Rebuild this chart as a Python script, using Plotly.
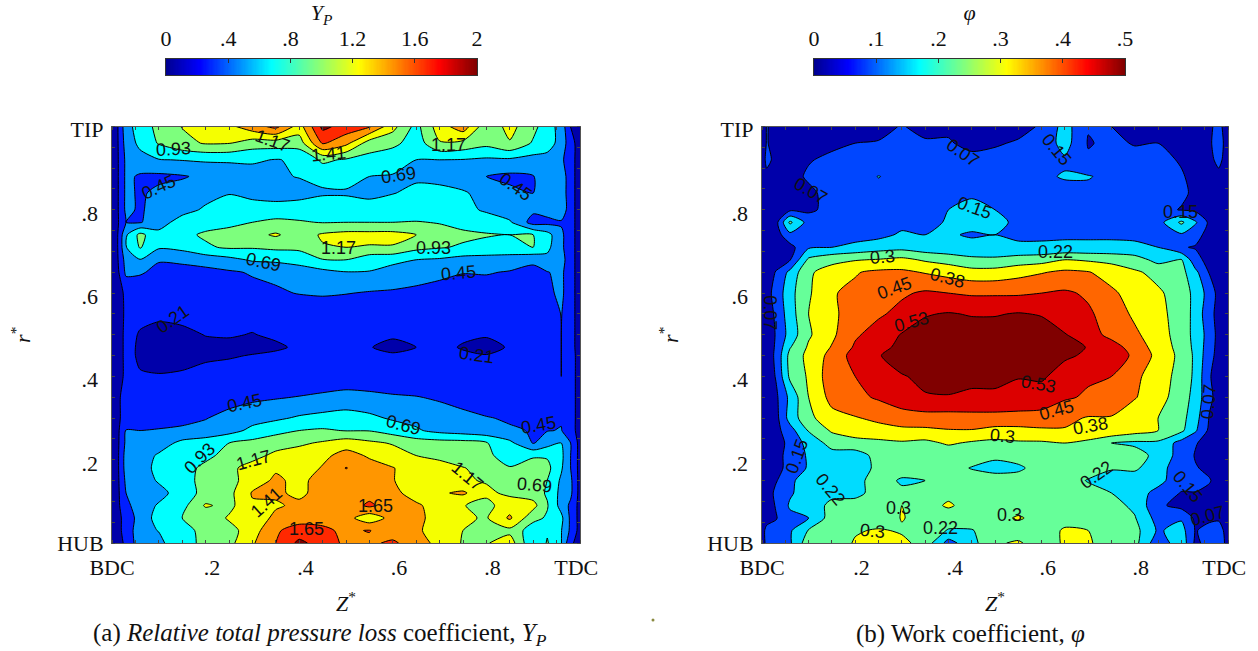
import plotly.graph_objects as go

W, H = 1258, 651

Z_NODES = [0, .01, .03, .06, .1, .15, .2, .25, .3, .35, .4, .45, .5, .55, .6, .65, .7, .75, .8, .85, .9, .93, .96, .98, 1]
R_NODES = [1, .96, .92, .88, .84, .80, .77, .74, .71, .68, .65, .60, .55, .50, .47, .45, .40, .35, .30, .27, .24, .21, .18, .15, .12, .09, .06, .03, 0]

YP = [
 [.10,.15,.60,.80,1.0,1.18,1.30,1.35,1.55,1.72,1.30,1.95,1.80,1.68,1.25,.85,1.30,1.55,1.0,1.25,1.0,.80,.60,.20,.10],
 [.10,.15,.55,.75,.95,1.10,1.19,1.18,1.05,1.05,1.05,1.68,1.48,1.05,1.00,.80,1.15,1.10,1.0,1.15,.90,.80,.60,.30,.10],
 [.10,.15,.50,.60,.68,.70,.72,.72,.72,.68,.72,.98,.90,.85,.75,.69,.69,.68,.65,.65,.60,.60,.50,.30,.10],
 [.10,.15,.50,.42,.40,.43,.50,.55,.60,.66,.70,.75,.78,.69,.68,.65,.60,.55,.45,.40,.44,.55,.60,.30,.10],
 [.10,.15,.50,.42,.50,.55,.62,.68,.62,.58,.60,.66,.66,.60,.68,.75,.78,.72,.60,.50,.45,.55,.60,.30,.10],
 [.10,.15,.50,.42,.55,.62,.72,.80,.80,.80,.82,.85,.85,.85,.85,.82,.80,.75,.66,.55,.50,.55,.62,.30,.10],
 [.10,.15,.45,.43,.60,.78,.85,.88,.93,.98,.95,.92,.93,.93,.93,.94,.92,.85,.80,.72,.35,.38,.42,.30,.10],
 [.10,.15,.66,1.0,.75,.88,.96,1.0,1.1,1.2,1.05,1.2,1.25,1.25,1.25,1.17,1.0,.98,.95,.93,.93,.78,.50,.30,.10],
 [.10,.15,.68,.95,.72,.76,.90,.96,.95,.98,.98,1.15,1.17,1.15,1.15,1.0,.95,.90,.85,.82,.93,.75,.50,.30,.10],
 [.10,.15,.55,.68,.47,.50,.55,.62,.72,.74,.80,.92,.93,.78,.75,.69,.66,.60,.60,.60,.50,.62,.55,.30,.10],
 [.10,.12,.50,.48,.38,.36,.38,.42,.47,.50,.55,.62,.68,.68,.60,.58,.52,.46,.47,.43,.38,.44,.50,.30,.10],
 [.10,.12,.25,.26,.27,.28,.29,.30,.38,.42,.46,.48,.46,.43,.42,.38,.34,.32,.31,.30,.28,.40,.50,.30,.10],
 [.10,.12,.24,.24,.24,.26,.25,.25,.25,.27,.28,.28,.27,.26,.26,.25,.24,.24,.24,.24,.24,.26,.46,.30,.10],
 [.10,.12,.25,.20,.16,.17,.215,.22,.205,.23,.25,.25,.25,.24,.24,.24,.24,.23,.23,.24,.24,.26,.45,.30,.10],
 [.10,.12,.25,.19,.15,.16,.17,.18,.18,.19,.23,.24,.23,.22,.15,.21,.24,.20,.14,.23,.24,.26,.45,.30,.10],
 [.10,.12,.25,.19,.15,.16,.19,.20,.215,.235,.25,.25,.24,.25,.24,.24,.25,.23,.22,.24,.25,.26,.45,.30,.12],
 [.10,.12,.25,.22,.22,.23,.25,.26,.27,.27,.27,.27,.27,.27,.27,.27,.27,.27,.27,.27,.27,.28,.45,.30,.12],
 [.10,.12,.35,.30,.30,.32,.33,.36,.40,.43,.46,.50,.55,.52,.48,.46,.42,.38,.34,.32,.34,.37,.42,.30,.12],
 [.10,.12,.35,.33,.33,.37,.44,.52,.60,.65,.72,.76,.78,.74,.66,.62,.56,.50,.46,.43,.42,.42,.43,.30,.12],
 [.10,.12,.46,.45,.47,.50,.52,.60,.75,.85,.93,.96,.92,.92,.82,.72,.62,.57,.52,.47,.44,.44,.46,.30,.12],
 [.10,.12,.50,.55,.58,.75,.82,.93,1.0,1.08,1.13,1.20,1.30,1.22,1.15,1.05,1.03,1.02,.95,.75,.43,.60,.69,.45,.12],
 [.10,.12,.55,.58,.72,.80,.88,1.0,1.1,1.22,1.28,1.35,1.5,1.38,1.28,1.17,1.12,1.05,1.0,.78,.90,.90,.75,.45,.12],
 [.10,.12,.55,.60,.75,.85,.98,1.12,1.25,1.38,1.27,1.43,1.66,1.5,1.42,1.3,1.25,1.18,1.1,.95,1.05,1.0,.72,.45,.12],
 [.10,.12,.50,.55,.72,.85,1.0,1.08,1.3,1.45,1.35,1.5,1.52,1.5,1.42,1.3,1.3,1.2,1.15,.95,1.0,.93,.65,.50,.12],
 [.10,.12,.45,.60,.60,.82,1.0,1.1,1.43,1.45,1.36,1.5,1.52,1.55,1.48,1.3,1.38,1.45,1.22,1.12,1.05,.90,.62,.50,.12],
 [.10,.12,.40,.55,.72,.85,1.2,1.1,1.38,1.38,1.46,1.5,1.5,1.7,1.5,1.45,1.3,1.18,1.1,1.3,1.25,.95,.60,.40,.12],
 [.10,.12,.30,.55,.78,.93,1.0,1.2,1.25,1.47,1.55,1.6,1.5,1.25,1.5,1.48,1.3,1.2,1.15,1.45,1.0,.90,.75,.40,.12],
 [.10,.12,.30,.60,.70,.85,1.0,1.08,1.3,1.62,1.75,1.68,1.62,1.66,1.5,1.45,1.3,1.17,1.0,1.1,.80,.90,.70,.40,.12],
 [.10,.12,.25,.60,.62,.90,.95,1.1,1.38,1.65,1.95,1.78,1.6,1.6,1.7,1.5,1.35,1.15,1.15,1.3,.70,.95,.70,.25,.12],
]

PHI = [
 [.02,.08,.05,.05,.05,.05,.05,.05,.08,.05,.065,.05,.05,.06,.08,.18,.08,.075,.065,.05,.05,.05,.06,.10,.03],
 [.02,.08,.05,.05,.05,.06,.075,.08,.09,.085,.08,.06,.07,.08,.10,.18,.07,.09,.07,.075,.05,.05,.06,.12,.03],
 [.02,.10,.05,.05,.07,.09,.10,.10,.10,.10,.10,.09,.09,.09,.10,.14,.085,.10,.10,.09,.07,.05,.05,.10,.03],
 [.02,.05,.06,.05,.085,.10,.12,.152,.13,.13,.12,.12,.12,.13,.14,.155,.155,.13,.12,.11,.08,.06,.05,.05,.03],
 [.02,.05,.05,.05,.06,.10,.12,.13,.13,.13,.13,.14,.14,.14,.14,.13,.13,.12,.12,.11,.09,.06,.05,.05,.03],
 [.02,.04,.06,.06,.06,.10,.12,.12,.13,.13,.15,.17,.15,.12,.12,.12,.12,.12,.11,.10,.07,.06,.06,.06,.03],
 [.02,.04,.05,.24,.12,.11,.12,.12,.13,.12,.16,.18,.19,.12,.12,.12,.12,.12,.12,.12,.24,.16,.06,.05,.03],
 [.02,.03,.04,.13,.09,.12,.12,.13,.16,.15,.16,.14,.15,.14,.14,.14,.14,.14,.14,.13,.14,.10,.05,.05,.03],
 [.02,.03,.04,.05,.14,.15,.17,.19,.20,.18,.17,.18,.17,.16,.16,.165,.165,.165,.16,.15,.08,.07,.05,.05,.03],
 [.02,.03,.04,.07,.24,.28,.295,.305,.32,.29,.27,.24,.24,.26,.27,.30,.29,.28,.26,.20,.23,.10,.05,.05,.03],
 [.02,.03,.08,.17,.29,.33,.37,.39,.39,.37,.35,.33,.33,.35,.37,.39,.38,.34,.31,.28,.25,.17,.07,.05,.03],
 [.02,.05,.10,.20,.29,.37,.39,.43,.44,.46,.45,.44,.44,.44,.45,.46,.44,.39,.34,.31,.27,.20,.12,.05,.03],
 [.02,.03,.09,.19,.30,.36,.41,.44,.47,.52,.53,.52,.52,.53,.52,.47,.46,.42,.36,.32,.27,.20,.10,.05,.03],
 [.02,.03,.08,.18,.29,.36,.44,.48,.53,.55,.56,.56,.56,.56,.56,.53,.48,.43,.39,.33,.27,.20,.12,.05,.03],
 [.02,.03,.085,.22,.31,.38,.46,.50,.545,.57,.57,.57,.57,.57,.57,.56,.52,.48,.42,.34,.275,.205,.11,.05,.03],
 [.02,.03,.09,.25,.32,.40,.48,.52,.56,.58,.58,.58,.58,.58,.58,.54,.51,.48,.44,.35,.28,.21,.10,.05,.03],
 [.02,.03,.08,.24,.31,.42,.45,.47,.52,.54,.56,.56,.56,.53,.54,.48,.46,.45,.39,.34,.27,.21,.08,.05,.03],
 [.02,.03,.06,.17,.30,.40,.43,.46,.50,.52,.52,.50,.50,.49,.48,.46,.44,.42,.38,.33,.26,.20,.09,.05,.03],
 [.02,.03,.05,.18,.28,.35,.37,.39,.41,.42,.42,.43,.43,.43,.43,.39,.37,.37,.33,.30,.25,.18,.07,.05,.03],
 [.02,.03,.05,.12,.23,.31,.34,.35,.36,.36,.37,.37,.35,.35,.36,.37,.36,.36,.33,.30,.24,.16,.06,.05,.03],
 [.02,.03,.05,.09,.18,.25,.27,.28,.29,.28,.31,.29,.28,.29,.29,.30,.28,.225,.21,.21,.12,.08,.05,.05,.03],
 [.02,.03,.05,.10,.16,.20,.19,.25,.26,.26,.25,.27,.24,.26,.27,.27,.26,.27,.26,.20,.12,.07,.05,.05,.03],
 [.02,.03,.06,.09,.16,.19,.17,.25,.26,.26,.26,.22,.20,.21,.26,.27,.26,.23,.24,.17,.12,.08,.06,.05,.03],
 [.02,.04,.07,.12,.225,.20,.20,.26,.215,.225,.26,.27,.26,.26,.26,.26,.22,.20,.18,.17,.11,.12,.08,.05,.03],
 [.02,.04,.09,.14,.19,.20,.20,.26,.24,.27,.28,.27,.26,.24,.25,.27,.25,.225,.18,.13,.07,.07,.06,.05,.03],
 [.02,.04,.08,.16,.17,.25,.26,.28,.30,.27,.31,.27,.27,.26,.26,.26,.26,.25,.21,.09,.05,.06,.06,.05,.03],
 [.02,.04,.07,.13,.15,.26,.26,.24,.305,.27,.26,.27,.27,.31,.27,.27,.26,.25,.23,.12,.14,.06,.06,.06,.03],
 [.04,.10,.10,.14,.23,.26,.29,.31,.29,.27,.22,.22,.27,.26,.26,.31,.30,.26,.25,.14,.18,.07,.10,.12,.03],
 [.03,.10,.08,.14,.27,.24,.31,.33,.32,.27,.12,.20,.29,.31,.26,.31,.31,.26,.25,.10,.20,.06,.10,.15,.03],
]
for row in YP + PHI:
    assert len(row) == len(Z_NODES)
assert len(YP) == len(R_NODES) and len(PHI) == len(R_NODES)

YP_CB_TICKS = [0, .4, .8, 1.2, 1.6, 2]
YP_CB_TEXT = ["0", ".4", ".8", "1.2", "1.6", "2"]
PHI_CB_TICKS = [0, .1, .2, .3, .4, .5]
PHI_CB_TEXT = ["0", ".1", ".2", ".3", ".4", ".5"]

X_LABELS = ["BDC", ".2", ".4", ".6", ".8", "TDC"]
Y_LABELS = ["TIP", ".8\u00a0", ".6\u00a0", ".4\u00a0", ".2\u00a0", "HUB"]

# contour label texts: text, Z*, r*, angle
YP_LABELS = [
 ("0.93",.132,.947,-3),("1.17",.344,.966,20),("1.41",.462,.935,-5),("1.17",.718,.956,0),
 ("0.45",.100,.855,-25),("0.69",.613,.883,-8),("0.45",.863,.855,35),("1.17",.483,.708,0),
 ("0.93",.688,.708,0),("0.69",.323,.675,12),("0.45",.741,.648,-5),("0.21",.130,.538,-35),
 ("0.21",.778,.451,8),("0.45",.284,.336,-12),("0.69",.622,.284,15),("0.45",.912,.283,-10),
 ("0.93",.188,.204,-45),("1.17",.303,.199,-15),("1.41",.331,.098,-42),("1.17",.759,.161,40),
 ("0.69",.902,.139,5),("1.65",.415,.034,0),("1.65",.564,.089,0),
]
PHI_LABELS = [
 ("0.07",.017,.552,90),("0.07",.105,.845,30),("0.07",.431,.936,35),("0.15",.457,.804,20),
 ("0.3",.258,.687,-5),("0.38",.399,.636,15),("0.45",.285,.612,-20),("0.53",.320,.531,-15),
 ("0.15",.633,.944,50),("0.15",.899,.795,0),("0.22",.630,.699,0),("0.53",.593,.382,10),
 ("0.45",.633,.319,-15),("0.38",.704,.281,-10),("0.3",.517,.257,5),("0.07",.958,.339,-85),
 ("0.22",.717,.163,-35),("0.15",.914,.135,50),("0.07",.955,.065,-15),("0.3",.532,.067,0),
 ("0.15",.075,.209,-70),("0.22",.146,.130,50),("0.3",.294,.084,0),("0.3",.238,.029,5),("0.22",.384,.036,0),
]

YP_START, YP_SIZE, YP_END = .21, .24, 1.89
PHI_START, PHI_SIZE, PHI_END = .075, .075, .525
YP_FILLS = ["#0000aa","#001eff","#0096ff","#00ffff","#7dff7d","#f5ff00","#ff9600","#ff2800","#800000"]
PHI_FILLS = ["#0000aa","#0046ff","#00dcff","#66ff99","#ffff00","#ff6600","#dc0000","#800000"]
JET = [[0,"rgb(0,0,143)"],[.11,"rgb(0,0,255)"],[.34,"rgb(0,255,255)"],[.62,"rgb(255,255,0)"],[.88,"rgb(255,0,0)"],[1,"rgb(128,0,0)"]]
RAMP_STEPS = 256

SERIF = "Liberation Serif"
TXT = dict(family=SERIF, size=22, color="#111")
PLOTS = [
 dict(l=112,r=580,z=YP,start=YP_START,size=YP_SIZE,end=YP_END,fills=YP_FILLS,labels=YP_LABELS,ystand=20,
      cbl=166,cbr=477,cbt=YP_CB_TICKS,cbx=YP_CB_TEXT,cbtitle="<i>Y</i><sub><i>P</i></sub>",cmax=2,
      cap="(a) <i>Relative total pressure loss</i> coefficient, <i>Y</i><sub><i>P</i></sub>",capx=320),
 dict(l=762,r=1228,z=PHI,start=PHI_START,size=PHI_SIZE,end=PHI_END,fills=PHI_FILLS,labels=PHI_LABELS,ystand=22,
      cbl=814,cbr=1125,cbt=PHI_CB_TICKS,cbx=PHI_CB_TEXT,cbtitle="<i>φ</i>",cmax=.5,
      cap="(b) Work coefficient, <i>φ</i>",capx=970),
]
TOP, BOT = 126.5, 543.0
CB_TOP, CB_BOT = 59.0, 75.0

# where the labels sit relative to the axes (they are set off the ticks in the reference)
X_LABEL_POS = [0, .2137, .4135, .613, .813, .992]
Y_LABEL_POS = [.994, .792, .592, .392, .192, 0]

fig = go.Figure()
layout = dict(width=W, height=H, margin=dict(l=0,r=0,t=0,b=0,autoexpand=False), paper_bgcolor="white", plot_bgcolor="white",
              showlegend=False, font=TXT)
annotations = []
for i, p in enumerate(PLOTS):
    suf = "" if i == 0 else "2"
    cx, cy = f"x{i+3}", f"y{i+3}"
    n = len(p["fills"])
    zmin = p["start"] - p["size"]/2
    zmax = zmin + p["size"]*(n-1)
    scale = [[k/(n-1), c] for k, c in enumerate(p["fills"])]
    fig.add_trace(go.Contour(x=Z_NODES, y=R_NODES[::-1], z=p["z"][::-1], xaxis="x"+suf, yaxis="y"+suf,
        autocontour=False, contours=dict(start=p["start"],end=p["end"],size=p["size"],coloring="fill",showlabels=False),
        colorscale=scale, zmin=zmin, zmax=zmax, showscale=False, line=dict(color="black",width=1,smoothing=.7),
        hoverinfo="skip"))
    ramp = [p["cmax"]*k/(RAMP_STEPS-1) for k in range(RAMP_STEPS)]
    fig.add_trace(go.Heatmap(x=ramp, y=[0], z=[ramp], xaxis=cx, yaxis=cy, colorscale=JET, zmin=0, zmax=p["cmax"],
                             showscale=False, hoverinfo="skip"))
    layout[f"xaxis{i+3}"] = dict(domain=[p["cbl"]/W, p["cbr"]/W], range=[0,p["cmax"]], anchor=cy, side="top", tickmode="array",
        tickvals=p["cbt"], ticktext=p["cbx"], ticks="inside", ticklen=4, tickcolor="#333", showgrid=False, zeroline=False,
        showline=True, linecolor="#333", linewidth=1, mirror=True, tickfont=TXT, ticklabelstandoff=3, automargin=False,
        title=dict(text=p["cbtitle"], standoff=1, font=TXT))
    layout[f"yaxis{i+3}"] = dict(domain=[1-CB_BOT/H, 1-CB_TOP/H], range=[-.5,.5], anchor=cx, showticklabels=False, ticks="",
        showgrid=False, zeroline=False, showline=True, linecolor="#333", linewidth=1, mirror=True, automargin=False)
    layout["xaxis"+suf] = dict(domain=[p["l"]/W, p["r"]/W], range=[0,1], anchor="y"+suf, tickmode="array",
        tickvals=X_LABEL_POS, ticktext=X_LABELS, ticks="", showgrid=False, zeroline=False, showline=True, linecolor="#555",
        linewidth=1, mirror="allticks", tickfont=TXT, automargin=False, ticklabelstandoff=5,
        minor=dict(ticks="inside", ticklen=3, tickmode="linear", tick0=0, dtick=.05, tickcolor="#444", showgrid=False),
        title=dict(text="<i>Z</i><sup>*</sup>", standoff=16, font=TXT))
    layout["yaxis"+suf] = dict(domain=[1-BOT/H, 1-TOP/H], range=[0,1], anchor="x"+suf, tickmode="array",
        tickvals=Y_LABEL_POS, ticktext=Y_LABELS, ticks="", showgrid=False, zeroline=False, showline=True, linecolor="#555",
        linewidth=1, mirror="allticks", tickfont=TXT, automargin=False, ticklabelstandoff=3,
        minor=dict(ticks="inside", ticklen=3, tickmode="linear", tick0=0, dtick=.05, tickcolor="#444", showgrid=False),
        title=dict(text="<i>r</i><sup>*</sup>", standoff=p["ystand"], font=TXT))
    for text, zv, rv, ang in p["labels"]:
        annotations.append(dict(text=text, x=zv, y=rv, xref="x"+suf, yref="y"+suf, showarrow=False, textangle=ang,
                                font=dict(family="Liberation Sans",size=18,color="#111")))
    annotations.append(dict(text=p["cap"], x=p["capx"]/W, y=1-634/H, xref="paper", yref="paper", xanchor="center", yanchor="middle",
                            showarrow=False, font=dict(family=SERIF,size=25,color="#111")))
layout["annotations"] = annotations
layout["shapes"] = [dict(type="circle", xref="paper", yref="paper", x0=651.5/W, x1=654.5/W, y0=1-621.5/H, y1=1-618.5/H,
                         fillcolor="#8a8a40", line=dict(width=0))]
fig.update_layout(**layout)
fig.write_html("out.html", config=dict(displayModeBar=False),
               post_script="document.body.style.margin='0';document.body.style.overflow='hidden';")
